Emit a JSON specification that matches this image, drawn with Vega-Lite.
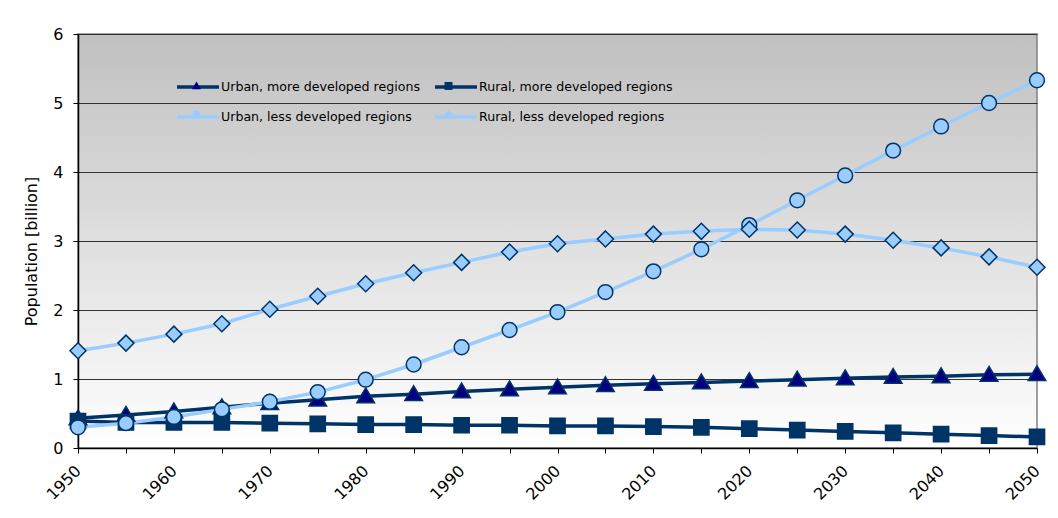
{
  "$schema": "https://vega.github.io/schema/vega-lite/v6.json",
  "width": 959,
  "height": 414,
  "autosize": "none",
  "padding": {"left": 78, "top": 34, "right": 21, "bottom": 70},
  "background": "#ffffff",
  "config": {
    "font": "DejaVu Sans",
    "view": {
      "fill": {"gradient": "linear", "x1": 0, "y1": 0, "x2": 0, "y2": 1,
        "stops": [{"offset": 0, "color": "#c0c0c0"}, {"offset": 1, "color": "#ffffff"}]},
      "stroke": "#808080",
      "strokeWidth": 1.5
    },
    "axis": {
      "labelFont": "DejaVu Sans",
      "labelFontSize": 16,
      "labelColor": "#000000",
      "domainColor": "#000000",
      "domainWidth": 1.5,
      "tickColor": "#000000",
      "tickSize": 5,
      "titleFont": "DejaVu Sans",
      "titleFontWeight": "normal",
      "titleColor": "#000000"
    }
  },
  "data": {"values": [
    {"year": 1950, "series": "Urban, more developed regions", "value": 0.43},
    {"year": 1955, "series": "Urban, more developed regions", "value": 0.48},
    {"year": 1960, "series": "Urban, more developed regions", "value": 0.53},
    {"year": 1965, "series": "Urban, more developed regions", "value": 0.59},
    {"year": 1970, "series": "Urban, more developed regions", "value": 0.65},
    {"year": 1975, "series": "Urban, more developed regions", "value": 0.70},
    {"year": 1980, "series": "Urban, more developed regions", "value": 0.75},
    {"year": 1985, "series": "Urban, more developed regions", "value": 0.78},
    {"year": 1990, "series": "Urban, more developed regions", "value": 0.82},
    {"year": 1995, "series": "Urban, more developed regions", "value": 0.85},
    {"year": 2000, "series": "Urban, more developed regions", "value": 0.88},
    {"year": 2005, "series": "Urban, more developed regions", "value": 0.91},
    {"year": 2010, "series": "Urban, more developed regions", "value": 0.93},
    {"year": 2015, "series": "Urban, more developed regions", "value": 0.95},
    {"year": 2020, "series": "Urban, more developed regions", "value": 0.97},
    {"year": 2025, "series": "Urban, more developed regions", "value": 0.99},
    {"year": 2030, "series": "Urban, more developed regions", "value": 1.01},
    {"year": 2035, "series": "Urban, more developed regions", "value": 1.03},
    {"year": 2040, "series": "Urban, more developed regions", "value": 1.04},
    {"year": 2045, "series": "Urban, more developed regions", "value": 1.06},
    {"year": 2050, "series": "Urban, more developed regions", "value": 1.07},
    {"year": 1950, "series": "Rural, more developed regions", "value": 0.39},
    {"year": 1955, "series": "Rural, more developed regions", "value": 0.37},
    {"year": 1960, "series": "Rural, more developed regions", "value": 0.37},
    {"year": 1965, "series": "Rural, more developed regions", "value": 0.37},
    {"year": 1970, "series": "Rural, more developed regions", "value": 0.36},
    {"year": 1975, "series": "Rural, more developed regions", "value": 0.35},
    {"year": 1980, "series": "Rural, more developed regions", "value": 0.34},
    {"year": 1985, "series": "Rural, more developed regions", "value": 0.34},
    {"year": 1990, "series": "Rural, more developed regions", "value": 0.33},
    {"year": 1995, "series": "Rural, more developed regions", "value": 0.33},
    {"year": 2000, "series": "Rural, more developed regions", "value": 0.32},
    {"year": 2005, "series": "Rural, more developed regions", "value": 0.32},
    {"year": 2010, "series": "Rural, more developed regions", "value": 0.31},
    {"year": 2015, "series": "Rural, more developed regions", "value": 0.30},
    {"year": 2020, "series": "Rural, more developed regions", "value": 0.28},
    {"year": 2025, "series": "Rural, more developed regions", "value": 0.26},
    {"year": 2030, "series": "Rural, more developed regions", "value": 0.24},
    {"year": 2035, "series": "Rural, more developed regions", "value": 0.22},
    {"year": 2040, "series": "Rural, more developed regions", "value": 0.20},
    {"year": 2045, "series": "Rural, more developed regions", "value": 0.18},
    {"year": 2050, "series": "Rural, more developed regions", "value": 0.16},
    {"year": 1950, "series": "Urban, less developed regions", "value": 0.30},
    {"year": 1955, "series": "Urban, less developed regions", "value": 0.36},
    {"year": 1960, "series": "Urban, less developed regions", "value": 0.45},
    {"year": 1965, "series": "Urban, less developed regions", "value": 0.56},
    {"year": 1970, "series": "Urban, less developed regions", "value": 0.67},
    {"year": 1975, "series": "Urban, less developed regions", "value": 0.81},
    {"year": 1980, "series": "Urban, less developed regions", "value": 0.99},
    {"year": 1985, "series": "Urban, less developed regions", "value": 1.21},
    {"year": 1990, "series": "Urban, less developed regions", "value": 1.46},
    {"year": 1995, "series": "Urban, less developed regions", "value": 1.71},
    {"year": 2000, "series": "Urban, less developed regions", "value": 1.97},
    {"year": 2005, "series": "Urban, less developed regions", "value": 2.26},
    {"year": 2010, "series": "Urban, less developed regions", "value": 2.56},
    {"year": 2015, "series": "Urban, less developed regions", "value": 2.88},
    {"year": 2020, "series": "Urban, less developed regions", "value": 3.23},
    {"year": 2025, "series": "Urban, less developed regions", "value": 3.59},
    {"year": 2030, "series": "Urban, less developed regions", "value": 3.95},
    {"year": 2035, "series": "Urban, less developed regions", "value": 4.31},
    {"year": 2040, "series": "Urban, less developed regions", "value": 4.66},
    {"year": 2045, "series": "Urban, less developed regions", "value": 5.00},
    {"year": 2050, "series": "Urban, less developed regions", "value": 5.33},
    {"year": 1950, "series": "Rural, less developed regions", "value": 1.41},
    {"year": 1955, "series": "Rural, less developed regions", "value": 1.52},
    {"year": 1960, "series": "Rural, less developed regions", "value": 1.65},
    {"year": 1965, "series": "Rural, less developed regions", "value": 1.80},
    {"year": 1970, "series": "Rural, less developed regions", "value": 2.01},
    {"year": 1975, "series": "Rural, less developed regions", "value": 2.20},
    {"year": 1980, "series": "Rural, less developed regions", "value": 2.38},
    {"year": 1985, "series": "Rural, less developed regions", "value": 2.54},
    {"year": 1990, "series": "Rural, less developed regions", "value": 2.69},
    {"year": 1995, "series": "Rural, less developed regions", "value": 2.84},
    {"year": 2000, "series": "Rural, less developed regions", "value": 2.96},
    {"year": 2005, "series": "Rural, less developed regions", "value": 3.03},
    {"year": 2010, "series": "Rural, less developed regions", "value": 3.10},
    {"year": 2015, "series": "Rural, less developed regions", "value": 3.14},
    {"year": 2020, "series": "Rural, less developed regions", "value": 3.17},
    {"year": 2025, "series": "Rural, less developed regions", "value": 3.16},
    {"year": 2030, "series": "Rural, less developed regions", "value": 3.10},
    {"year": 2035, "series": "Rural, less developed regions", "value": 3.01},
    {"year": 2040, "series": "Rural, less developed regions", "value": 2.90},
    {"year": 2045, "series": "Rural, less developed regions", "value": 2.77},
    {"year": 2050, "series": "Rural, less developed regions", "value": 2.62}
  ]},
  "encoding": {
    "x": {
      "field": "year", "type": "quantitative",
      "scale": {"domain": [1950, 2050], "nice": false, "zero": false},
      "axis": {
        "title": null,
        "values": [1950, 1955, 1960, 1965, 1970, 1975, 1980, 1985, 1990, 1995, 2000, 2005, 2010, 2015, 2020, 2025, 2030, 2035, 2040, 2045, 2050],
        "labelExpr": "datum.value % 10 === 0 ? datum.value + '' : ''",
        "labelAngle": -45,
        "labelAlign": "right",
        "labelBaseline": "middle",
        "labelPadding": 15,
        "labelOverlap": false,
        "grid": false
      }
    },
    "y": {
      "field": "value", "type": "quantitative",
      "scale": {"domain": [0, 6], "nice": false},
      "axis": {
        "title": "Population [billion]",
        "titleFontSize": 16,
        "titleAngle": -90,
        "titleX": -47,
        "titleY": 217,
        "titleAlign": "center",
        "titleBaseline": "middle",
        "values": [0, 1, 2, 3, 4, 5, 6],
        "labelPadding": 10,
        "grid": true,
        "gridColor": "#333333",
        "gridWidth": 1
      }
    }
  },
  "layer": [
    {
      "mark": {"type": "line", "strokeJoin": "round"},
      "encoding": {
        "color": {
          "field": "series", "type": "nominal",
          "scale": {
            "domain": ["Urban, more developed regions", "Rural, more developed regions", "Urban, less developed regions", "Rural, less developed regions"],
            "range": ["#003366", "#003366", "#99ccff", "#99ccff"]
          },
          "legend": {
            "title": null,
            "orient": "none",
            "legendX": 97,
            "legendY": 30,
            "direction": "horizontal",
            "columns": 2,
            "columnPadding": 8,
            "rowPadding": -18,
            "padding": 0,
            "symbolType": "stroke",
            "symbolSize": 1764,
            "symbolStrokeWidth": 4,
            "labelOffset": 0,
            "labelFont": "DejaVu Sans",
            "labelFontSize": 12.6,
            "labelColor": "#000000",
            "labelLimit": 400,
            "zindex": 1
          }
        },
        "strokeWidth": {
          "field": "series", "type": "nominal",
          "scale": {
            "domain": ["Urban, more developed regions", "Rural, more developed regions", "Urban, less developed regions", "Rural, less developed regions"],
            "range": [3.5, 3.5, 5, 5]
          },
          "legend": null
        }
      }
    },
    {
      "mark": {"type": "point", "filled": true, "size": 6400, "stroke": "#003366", "strokeWidth": 1.5, "opacity": 1},
      "encoding": {
        "fill": {
          "field": "series", "type": "nominal", "sort": null,
          "scale": {"range": ["#000080", "#003366", "#99ccff", "#99ccff"]},
          "legend": {
            "title": null,
            "orient": "none",
            "legendX": 97,
            "legendY": 30,
            "direction": "horizontal",
            "columns": 2,
            "columnPadding": 209,
            "rowPadding": -17,
            "padding": 0,
            "symbolSize": 1764,
            "symbolStrokeColor": "#003366",
            "symbolStrokeWidth": 1,
            "labelOffset": 0,
            "labelExpr": "''",
            "labelFont": "DejaVu Sans",
            "labelFontSize": 12.6,
            "labelLimit": 400,
            "zindex": 2
          }
        },
        "shape": {
          "field": "series", "type": "nominal", "sort": null,
          "scale": {"range": [
            "M0,-0.21L0.22,0.16L-0.22,0.16Z",
            "M-0.19,-0.19L0.19,-0.19L0.19,0.19L-0.19,0.19Z",
            "M0.185,0A0.185,0.185 0 1,1 -0.185,0A0.185,0.185 0 1,1 0.185,0Z",
            "M0,-0.2L0.2,0L0,0.2L-0.2,0Z"
          ]},
          "legend": {
            "title": null,
            "orient": "none",
            "legendX": 97,
            "legendY": 30,
            "direction": "horizontal",
            "columns": 2,
            "columnPadding": 209,
            "rowPadding": -17,
            "padding": 0,
            "symbolSize": 1764,
            "symbolStrokeColor": "#003366",
            "symbolStrokeWidth": 1,
            "labelOffset": 0,
            "labelExpr": "''",
            "labelFont": "DejaVu Sans",
            "labelFontSize": 12.6,
            "labelLimit": 400,
            "zindex": 2
          }
        }
      }
    }
  ]
}
